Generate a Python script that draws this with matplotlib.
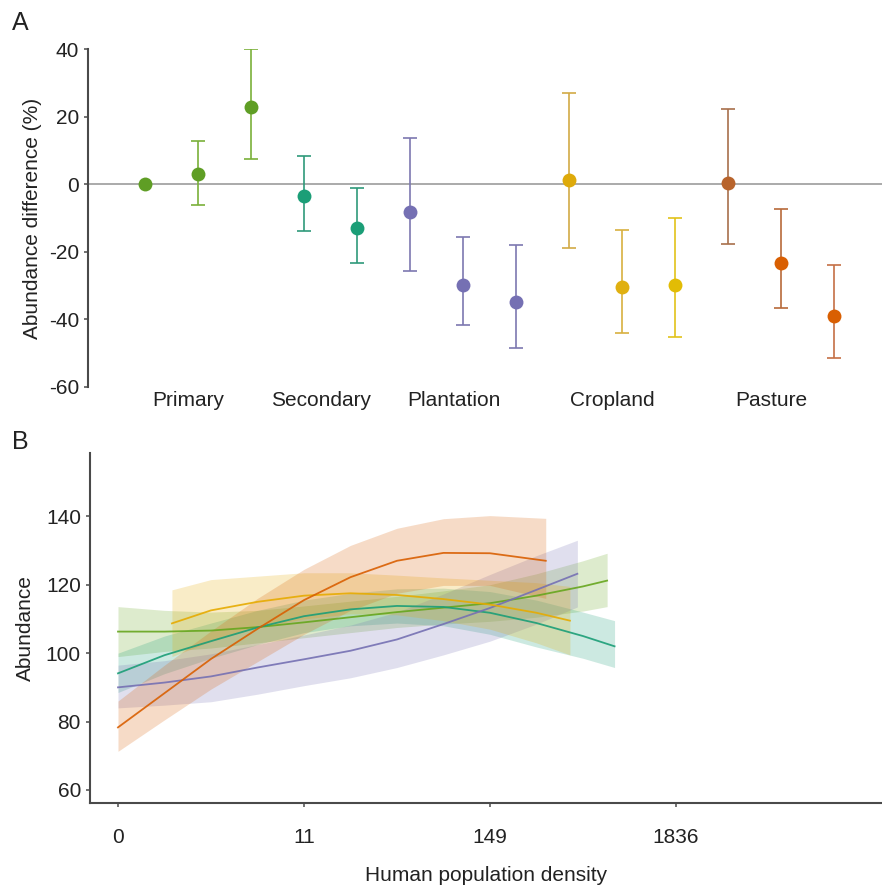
import numpy as np
import matplotlib
matplotlib.use("Agg")
import matplotlib.pyplot as plt

plt.rcParams['font.family'] = ['Liberation Sans', 'DejaVu Sans']
plt.rcParams['axes.unicode_minus'] = False

# ---- panel A: abundance difference by land use / intensity ----
group_names = ['Primary', 'Secondary', 'Plantation', 'Cropland', 'Pasture']
group_sizes = [3, 2, 3, 3, 3]
estimate = [0.0, 3.0, 22.7, -3.4, -12.9, -8.2, -29.7, -34.9, 1.3, -30.4, -29.8, 0.3, -23.3, -39.1]
upper_ci = [np.nan, 12.9, 40.0, 8.3, -1.2, 13.6, -15.6, -17.9, 27.0, -13.6, -10.1, 22.3, -7.2, -23.9]
lower_ci = [np.nan, -6.1, 7.5, -13.7, -23.2, -25.7, -41.6, -48.5, -19.0, -44.1, -45.2, -17.7, -36.6, -51.3]
point_colors = ['#5f9e25', '#5f9e25', '#5f9e25', '#1b9e77', '#1b9e77',
                '#7570b3', '#7570b3', '#7570b3', '#deaa0a', '#e0b010', '#e2bc05',
                '#b8642c', '#d95f02', '#d95f02']
bar_colors = ['#7ab03a', '#7ab03a', '#7ab03a', '#2f9a7a', '#2f9a7a',
              '#7d78b0', '#7d78b0', '#7d78b0', '#d2aa45', '#d8b040', '#e2c21a',
              '#a8704c', '#b86a3a', '#c57045']

# ---- panel B: abundance vs human population density ----
density_ticks = ['0', '11', '149', '1836']
series_colors = {'Primary': '#66a61e', 'Secondary': '#1b9e77', 'Plantation': '#7570b3',
                 'Cropland': '#e6ab02', 'Pasture': '#d95f02'}

pasture_x = [0, 0.25, 0.5, 0.75, 1.0, 1.25, 1.5, 1.75, 2.0, 2.3]
pasture_y = [78.3, 88.3, 98.3, 107.1, 115.5, 122.2, 127.0, 129.3, 129.2, 127.0]
pasture_lo = [71.3, 80.5, 89.5, 97.5, 105.5, 112.5, 117.5, 119.8, 119.8, 116.0]
pasture_hi = [86.0, 96.5, 106.5, 116.0, 124.5, 131.5, 136.5, 139.3, 140.2, 139.4]

plant_x = [0, 0.25, 0.5, 0.75, 1.0, 1.25, 1.5, 1.75, 2.0, 2.25, 2.47]
plant_y = [90.0, 91.4, 93.2, 95.8, 98.2, 100.7, 104.0, 108.5, 113.2, 118.5, 123.2]
plant_lo = [84.0, 84.8, 85.8, 88.0, 90.5, 92.8, 95.8, 99.5, 103.5, 108.5, 113.5]
plant_hi = [96.5, 97.8, 99.8, 102.5, 105.3, 108.2, 112.0, 117.3, 123.0, 128.5, 133.0]

sec_x = [0, 0.25, 0.5, 0.75, 1.0, 1.25, 1.5, 1.75, 2.0, 2.25, 2.5, 2.67]
sec_y = [94.1, 99.4, 103.5, 107.5, 110.8, 112.8, 113.8, 113.5, 111.8, 108.8, 105.0, 102.0]
sec_lo = [88.5, 94.0, 98.5, 102.5, 106.0, 108.0, 108.8, 108.0, 105.5, 101.8, 98.5, 95.8]
sec_hi = [100.0, 105.0, 108.8, 112.5, 115.5, 117.5, 118.8, 119.0, 118.0, 115.5, 112.0, 109.5]

prim_x = [0, 0.25, 0.5, 0.75, 1.0, 1.25, 1.5, 1.75, 2.0, 2.25, 2.5, 2.63]
prim_y = [106.3, 106.3, 106.6, 107.6, 109.0, 110.5, 112.0, 113.3, 114.6, 116.8, 119.5, 121.2]
prim_lo = [99.0, 100.5, 101.5, 103.0, 104.5, 106.0, 107.5, 108.5, 109.3, 110.5, 112.3, 113.6]
prim_hi = [113.6, 112.5, 112.0, 112.5, 113.8, 115.2, 116.6, 118.2, 120.0, 123.2, 127.0, 129.2]

crop_x = [0.29, 0.5, 0.75, 1.0, 1.25, 1.5, 1.75, 2.0, 2.25, 2.43]
crop_y = [108.7, 112.5, 115.0, 116.8, 117.5, 117.0, 115.8, 114.2, 111.8, 109.5]
crop_lo = [99.0, 103.5, 107.5, 110.0, 111.5, 111.2, 109.5, 107.0, 103.0, 99.5]
crop_hi = [118.5, 121.5, 122.5, 123.5, 123.5, 122.8, 122.0, 121.3, 120.6, 119.5]

TEXT = '#222222'
SPINE = '#4a4a4a'


def style_axis(ax):
    for side in ['top', 'right']:
        ax.spines[side].set_visible(False)
    for side in ['left', 'bottom']:
        ax.spines[side].set_color(SPINE)
        ax.spines[side].set_linewidth(1.5)
    ax.tick_params(colors=SPINE, labelcolor=TEXT, labelsize=15, length=3, width=1.1)


def plot_panel_a(ax):
    x = np.arange(len(estimate))
    ax.axhline(0, color='#9c9c9c', lw=1.2, zorder=1)

    for i in range(len(x)):
        if not np.isnan(upper_ci[i]):
            err = [[estimate[i] - lower_ci[i]], [upper_ci[i] - estimate[i]]]
            ax.errorbar(x[i], estimate[i], yerr=err, fmt='none', ecolor=bar_colors[i],
                        elinewidth=1.2, capsize=5, capthick=1.2, zorder=2)
        ax.plot(x[i], estimate[i], 'o', color=point_colors[i], ms=10, mec='none', zorder=3)

    start = 0
    for name, size in zip(group_names, group_sizes):
        center = np.mean(x[start:start + size])
        ax.text(center - 0.18, -64, name, ha='center', va='center', fontsize=15,
                color=TEXT, clip_on=False)
        start += size

    ax.set_xlim(-1.075, 13.906)
    ax.set_ylim(-60, 40)
    ax.set_yticks(np.arange(-60, 41, 20))
    ax.set_xticks([])
    style_axis(ax)
    ax.spines['bottom'].set_visible(False)
    ax.set_ylabel('Abundance difference (%)', fontsize=15, color=TEXT, labelpad=5)


def plot_panel_b(ax):
    series = [
        ('Primary', prim_x, prim_y, prim_lo, prim_hi),
        ('Secondary', sec_x, sec_y, sec_lo, sec_hi),
        ('Plantation', plant_x, plant_y, plant_lo, plant_hi),
        ('Cropland', crop_x, crop_y, crop_lo, crop_hi),
        ('Pasture', pasture_x, pasture_y, pasture_lo, pasture_hi),
    ]
    for name, xs, ys, lo, hi in series:
        ax.fill_between(xs, lo, hi, color=series_colors[name], alpha=0.22, lw=0)
    for name, xs, ys, lo, hi in series:
        ax.plot(xs, ys, color=series_colors[name], lw=1.3, alpha=0.9)

    ax.set_xlim(-0.1505, 4.108)
    ax.set_ylim(56.2, 158.5)
    ax.set_yticks(np.arange(60, 141, 20))
    ax.set_xticks(range(len(density_ticks)))
    ax.set_xticklabels(density_ticks)
    style_axis(ax)
    ax.tick_params(axis='x', pad=15)
    ax.set_ylabel('Abundance', fontsize=15, color=TEXT, labelpad=8)
    ax.set_xlabel('Human population density', fontsize=15, color=TEXT, labelpad=14)


def main():
    fig = plt.figure(figsize=(8.82, 8.88), dpi=100)
    ax_a = fig.add_axes([88 / 882, 1 - 387 / 888, 794 / 882, 338 / 888])
    ax_b = fig.add_axes([90 / 882, 1 - 803 / 888, 792 / 882, 350 / 888])

    plot_panel_a(ax_a)
    plot_panel_b(ax_b)

    fig.text(12 / 882, 1 - 30 / 888, 'A', fontsize=18, color=TEXT, va='baseline')
    fig.text(12 / 882, 1 - 449 / 888, 'B', fontsize=18, color=TEXT, va='baseline')

    fig.savefig('out.png', dpi=100)


if __name__ == "__main__":
    main()
